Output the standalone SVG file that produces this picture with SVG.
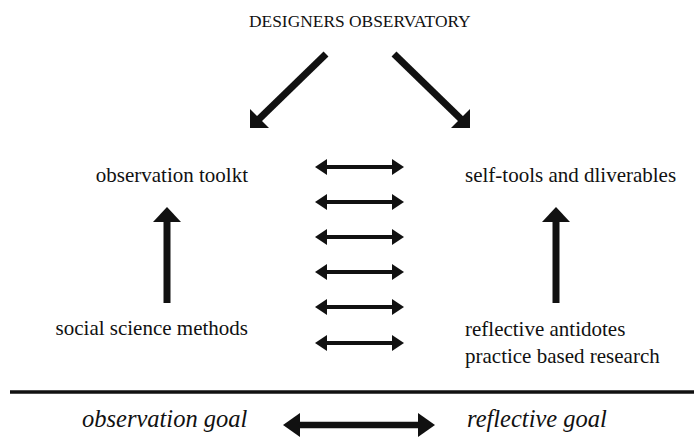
<svg xmlns="http://www.w3.org/2000/svg" width="694" height="437" viewBox="0 0 694 437">
<style>
text{font-family:"Liberation Serif","Times New Roman",serif;fill:#111}
.t{font-size:17.4px}
.b{font-size:21px}
.i{font-size:24.5px;font-style:italic}
.sh{stroke:#111;fill:none}
.hd{fill:#111}
</style>
<rect width="694" height="437" fill="#fff"/>
<g id="title"><text class="t" x="249" y="26.5">DESIGNERS OBSERVATORY</text></g>
<g id="obs-toolkit"><text class="b" x="248" y="182" text-anchor="end">observation toolkt</text></g>
<g id="self-tools"><text class="b" x="465" y="182">self-tools and dliverables</text></g>
<g id="social-methods"><text class="b" x="248" y="335" text-anchor="end">social science methods</text></g>
<g id="reflective-antidotes"><text class="b" x="465" y="336">reflective antidotes</text><text class="b" x="465" y="363">practice based research</text></g>
<g id="obs-goal"><text class="i" x="82" y="427">observation goal</text></g>
<g id="refl-goal"><text class="i" x="467" y="427">reflective goal</text></g>
<g id="divider"><line x1="10" y1="392" x2="694" y2="392" stroke="#111" stroke-width="3.5"/></g>
<g id="connectors">
<line class="sh" x1="326" y1="54" x2="256" y2="122" stroke-width="7"/>
<polygon class="hd" points="250,128 250,109 269,128"/>
<line class="sh" x1="394" y1="54" x2="464" y2="122" stroke-width="7"/>
<polygon class="hd" points="470,128 451,128 470,109"/>
<line class="sh" x1="167" y1="303" x2="167" y2="216" stroke-width="7"/>
<polygon class="hd" points="167,207 153,222 181,222"/>
<line class="sh" x1="556" y1="303" x2="556" y2="216" stroke-width="7"/>
<polygon class="hd" points="556,207 542,222 570,222"/>
<g stroke-width="4">
<line class="sh" x1="322" y1="167" x2="397" y2="167"/>
<line class="sh" x1="322" y1="202" x2="397" y2="202"/>
<line class="sh" x1="322" y1="237" x2="397" y2="237"/>
<line class="sh" x1="322" y1="272" x2="397" y2="272"/>
<line class="sh" x1="322" y1="307" x2="397" y2="307"/>
<line class="sh" x1="322" y1="343" x2="397" y2="343"/>
</g>
<polygon class="hd" points="315,167 327,159 327,175"/><polygon class="hd" points="404,167 392,159 392,175"/>
<polygon class="hd" points="315,202 327,194 327,210"/><polygon class="hd" points="404,202 392,194 392,210"/>
<polygon class="hd" points="315,237 327,229 327,245"/><polygon class="hd" points="404,237 392,229 392,245"/>
<polygon class="hd" points="315,272 327,264 327,280"/><polygon class="hd" points="404,272 392,264 392,280"/>
<polygon class="hd" points="315,307 327,299 327,315"/><polygon class="hd" points="404,307 392,299 392,315"/>
<polygon class="hd" points="315,343 327,335 327,351"/><polygon class="hd" points="404,343 392,335 392,351"/>
<line class="sh" x1="294" y1="425" x2="424" y2="425" stroke-width="6.5"/>
<polygon class="hd" points="283,425 300,413 300,437"/>
<polygon class="hd" points="435,425 418,413 418,437"/>
</g>
</svg>
